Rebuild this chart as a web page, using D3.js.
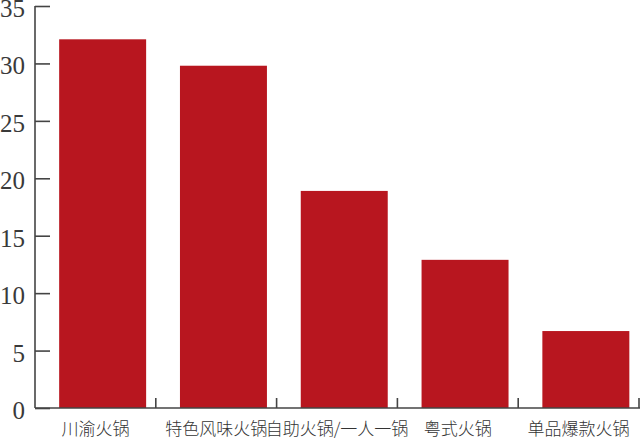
<!DOCTYPE html>
<html>
<head>
<meta charset="utf-8">
<script src="https://cdn.jsdelivr.net/npm/d3@7"></script>
<style>
  html, body { margin: 0; padding: 0; background: #fff; }
  svg { display: block; }
</style>
</head>
<body>
<svg id="chart" width="640" height="439"></svg>
<script>
// share of hot pot categories (%)
const categories = ['川渝火锅', '特色风味火锅', '自助火锅/一人一锅', '粤式火锅', '单品爆款火锅']
const shares = [32.1, 29.8, 18.9, 12.9, 6.7]
const yTicks = [0, 5, 10, 15, 20, 25, 30, 35]

const width = 640
const height = 439
const axisColor = '#444'
const barColor = '#b8161f'

const svg = d3.select('#chart')

const x = d3.scaleBand()
  .domain(categories)
  .range([35, 639])
  .padding(0)

const y = d3.scaleLinear()
  .domain([0, 35])
  .range([408, 6])

const bw = x.bandwidth()

// bars sit right of band centre, like the original
svg.append('g')
  .selectAll('rect')
  .data(categories)
  .join('rect')
  .attr('x', d => x(d) + bw * 0.2)
  .attr('width', bw * 0.72)
  .attr('y', (d, i) => y(shares[i]))
  .attr('height', (d, i) => y(0) - y(shares[i]))
  .attr('fill', barColor)

// y axis, ticks point inward
const yAxis = svg.append('g')
  .attr('transform', 'translate(35,0)')
  .call(d3.axisRight(y).tickValues(yTicks).tickSize(15).tickFormat(d3.format('d')))
yAxis.select('.domain').attr('stroke', axisColor).attr('stroke-width', 1.6)
  .attr('d', `M0,${y(35)}V${y(0)}`)
yAxis.selectAll('.tick line').attr('stroke', axisColor).attr('stroke-width', 1.6)
yAxis.selectAll('.tick text')
  .attr('x', -10)
  .attr('dy', '0.42em')
  .attr('text-anchor', 'end')
  .attr('fill', '#3a3a3a')
  .style('font-family', '"Liberation Serif", "DejaVu Serif", serif')
  .style('font-size', '25px')

// x axis with ticks at band edges pointing up
const xAxis = svg.append('g')
  .attr('transform', `translate(0,${y(0)})`)
xAxis.append('path')
  .attr('d', `M35,0H${width}`)
  .attr('stroke', axisColor)
  .attr('stroke-width', 1.6)
  .attr('fill', 'none')
xAxis.selectAll('line')
  .data(categories)
  .join('line')
  .attr('x1', d => x(d) + bw)
  .attr('x2', d => x(d) + bw)
  .attr('y1', 0)
  .attr('y2', -10)
  .attr('stroke', axisColor)
  .attr('stroke-width', 1.6)
xAxis.selectAll('text')
  .data(categories)
  .join('text')
  .attr('x', d => x(d) + bw / 2)
  .attr('y', 27)
  .attr('text-anchor', 'middle')
  .attr('fill', '#333')
  .style('font-family', '"Noto Sans CJK SC", sans-serif')
  .style('font-weight', 300)
  .style('font-size', '17px')
  .text(d => d)
</script>
</body>
</html>
